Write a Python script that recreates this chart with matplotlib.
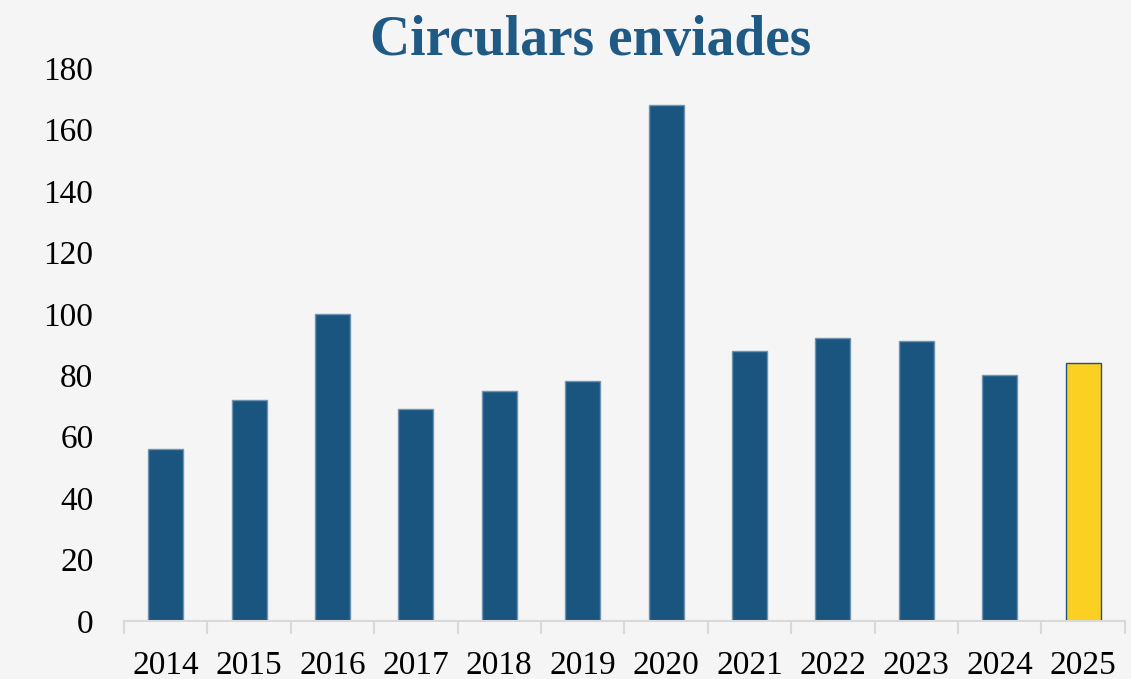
import matplotlib
matplotlib.use("Agg")
import matplotlib.pyplot as plt
import numpy as np

years = ["2014", "2015", "2016", "2017", "2018", "2019", "2020",
         "2021", "2022", "2023", "2024", "2025"]
circulars = [56, 72, 100, 69, 75, 78, 168, 88, 92, 91, 80, 84]
yticks = [0, 20, 40, 60, 80, 100, 120, 140, 160, 180]

BLUE = "#1a5580"
YELLOW = "#fcd023"
BG = "#f5f5f5"

plt.rcParams["font.family"] = ["Liberation Serif", "DejaVu Serif"]

fig = plt.figure(figsize=(11.31, 6.79), dpi=100, facecolor=BG)
ax = fig.add_axes([0.1096, 0.0854, 0.885, 0.8145], facecolor=BG)

x = np.arange(len(years))
colors = [BLUE] * (len(years) - 1) + [YELLOW]
edges = ["#6f93b0"] * (len(years) - 1) + [BLUE]
ax.bar(x, circulars, width=0.42, color=colors, edgecolor=edges, linewidth=1.0)

ax.set_xlim(-0.5, len(years) - 0.5)
ax.set_ylim(0, 180)
ax.set_yticks(yticks)
ax.set_yticklabels([str(v) for v in yticks], fontsize=24)
ax.tick_params(axis="y", length=0, pad=22)

ax.set_xticks(x)
ax.set_xticklabels(years, fontsize=24)
ax.tick_params(axis="x", length=0, pad=21)
ax.set_xticks(np.arange(len(years) + 1) - 0.5, minor=True)
ax.tick_params(axis="x", which="minor", length=9, width=1.5, color="#d9d9d9")

for s in ["top", "right", "left"]:
    ax.spines[s].set_visible(False)
ax.spines["bottom"].set_color("#d9d9d9")
ax.spines["bottom"].set_linewidth(1.5)

fig.text(0.522, 0.94, "Circulars enviades", ha="center", va="center",
         fontsize=40, fontweight="bold", color="#1f5a85")

fig.savefig("out.png", dpi=100, facecolor=BG)
